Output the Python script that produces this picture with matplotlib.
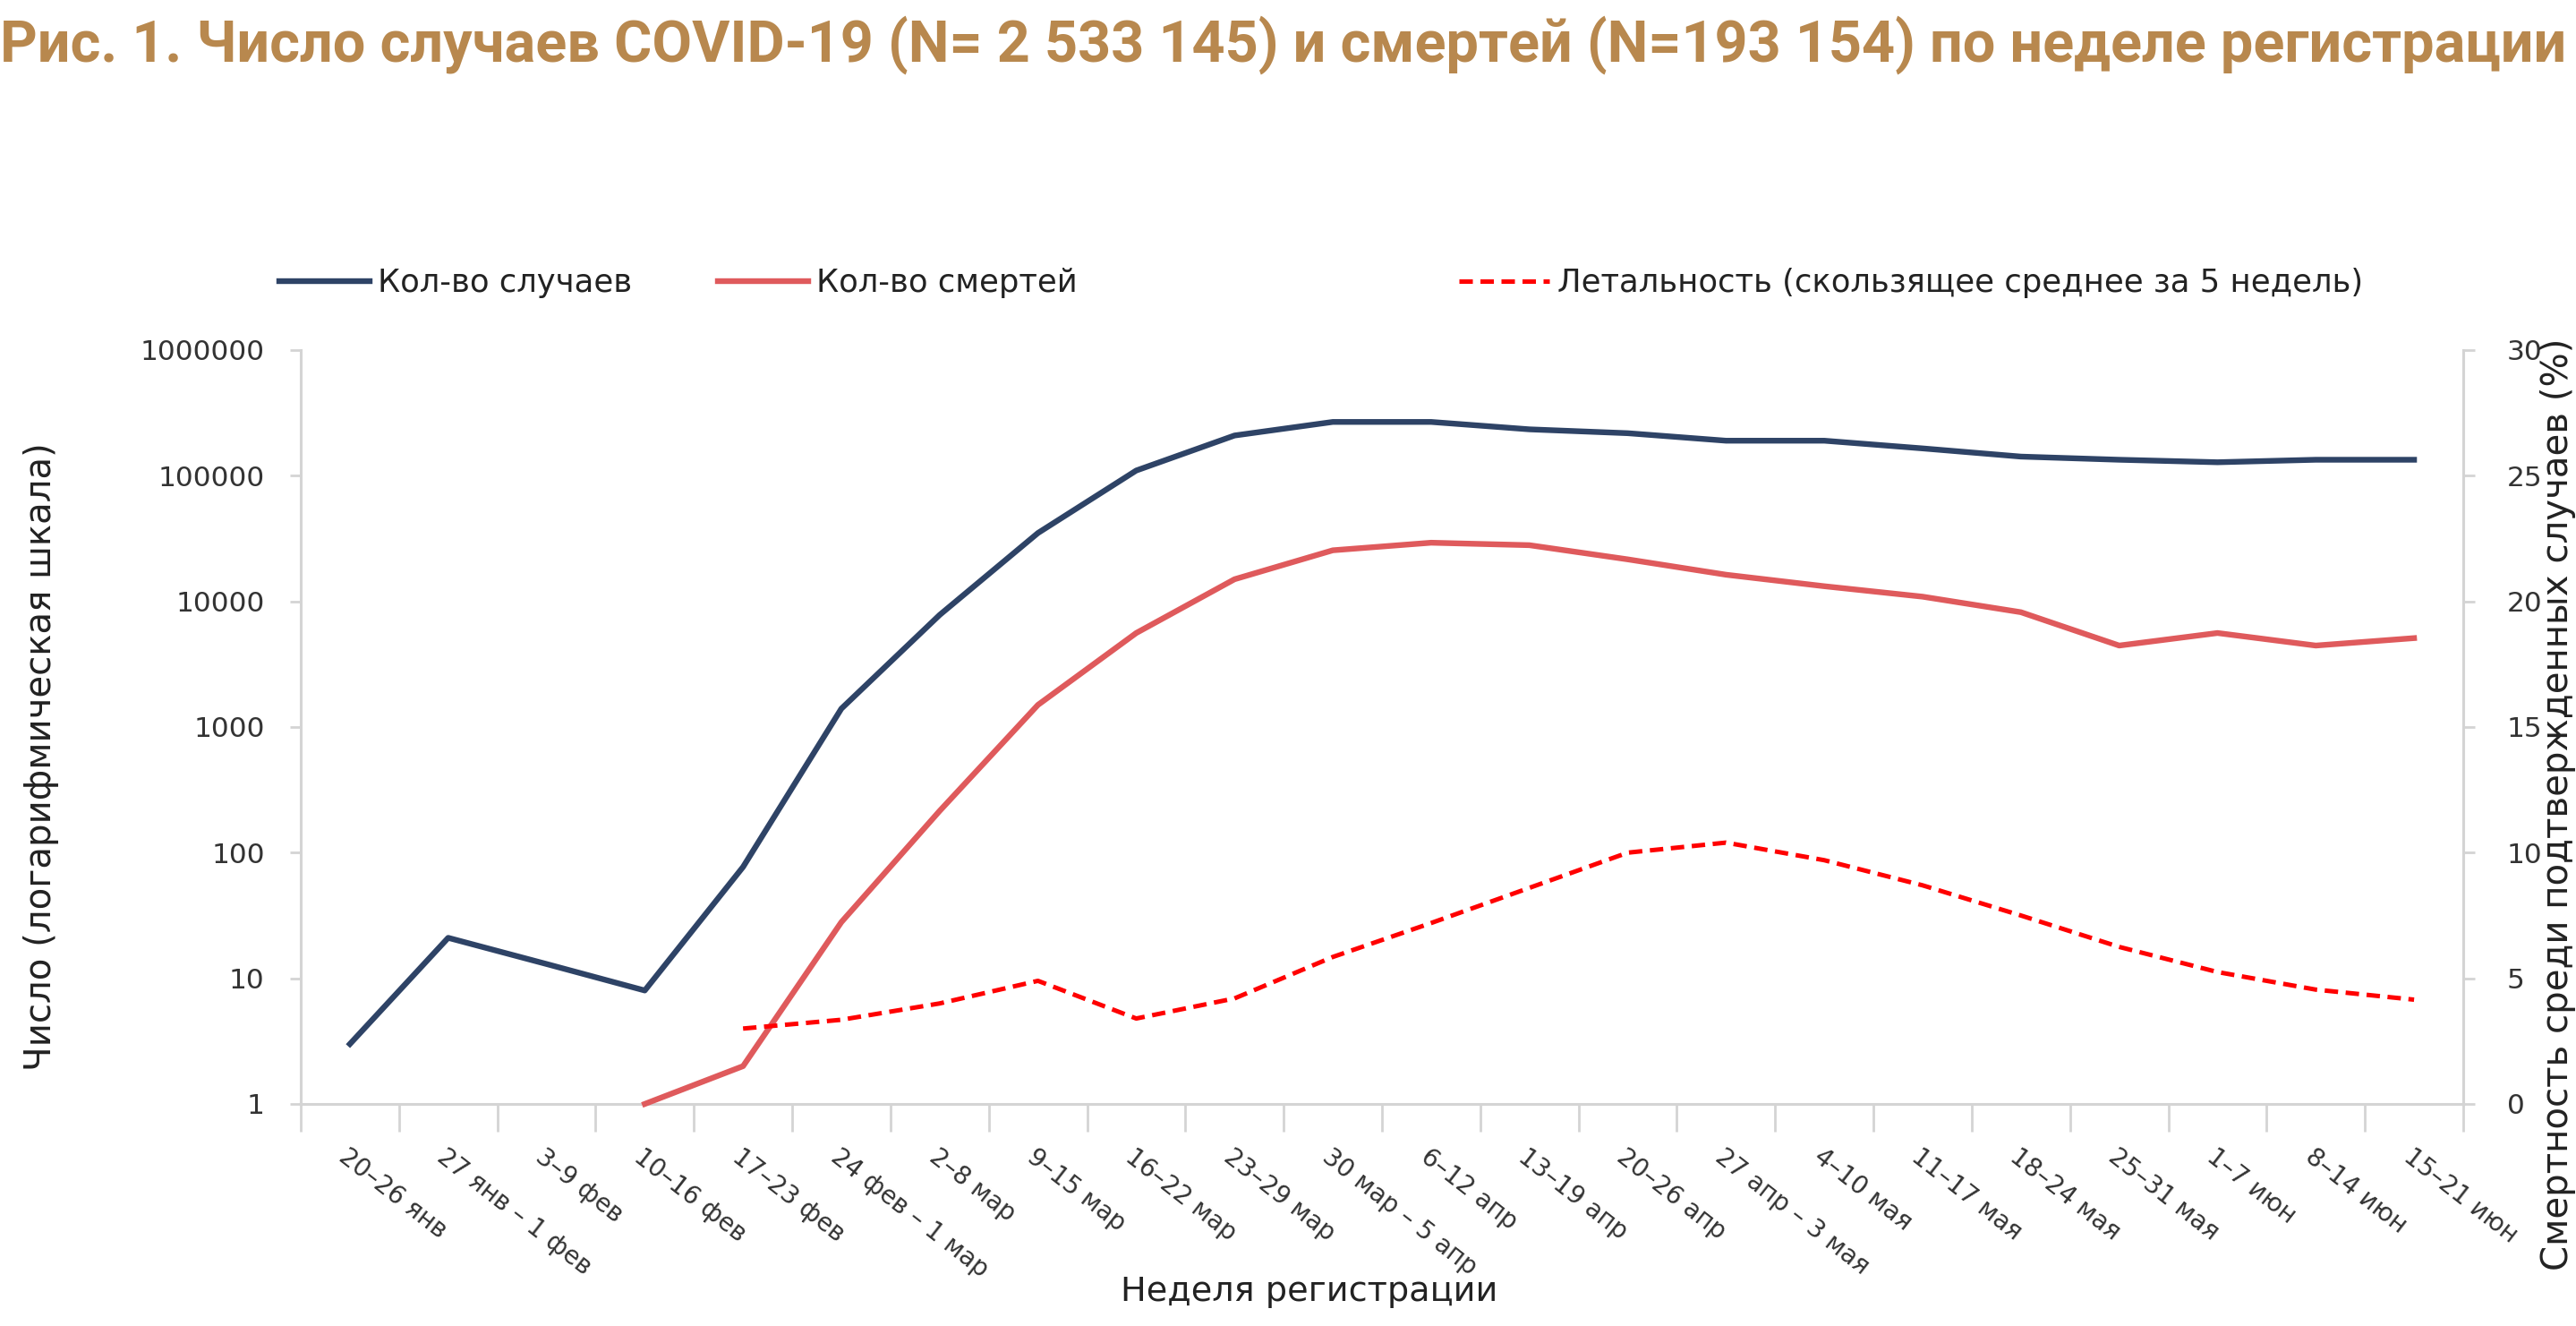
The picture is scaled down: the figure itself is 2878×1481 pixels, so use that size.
import numpy as np
import matplotlib.pyplot as plt
from matplotlib.ticker import FixedLocator, NullFormatter, FixedFormatter

weeks = ['20–26 янв', '27 янв – 1 фев', '3–9 фев', '10–16 фев', '17–23 фев',
         '24 фев – 1 мар', '2–8 мар', '9–15 мар', '16–22 мар', '23–29 мар',
         '30 мар – 5 апр', '6–12 апр', '13–19 апр', '20–26 апр', '27 апр – 3 мая',
         '4–10 мая', '11–17 мая', '18–24 мая', '25–31 мая', '1–7 июн',
         '8–14 июн', '15–21 июн']

cases = [3, 21, 13, 8, 77, 1400, 7800, 35000, 110000, 209000, 268000,
         268000, 234000, 218000, 190000, 190000, 165000, 142000, 134000,
         128000, 134000, 134000]

deaths = [np.nan, np.nan, np.nan, 1, 2, 28, 215, 1500, 5600, 15000, 25500,
          29300, 28000, 21600, 16300, 13200, 10900, 8200, 4450, 5600, 4450, 5100]

letality = [np.nan, np.nan, np.nan, np.nan, 3.0, 3.35, 4.0, 4.9, 3.4, 4.2, 5.85,
            7.2, 8.6, 10.0, 10.4, 9.7, 8.7, 7.5, 6.25, 5.25, 4.55, 4.15]

log_ticks = [1, 10, 100, 1000, 10000, 100000, 1000000]
pct_ticks = [0, 5, 10, 15, 20, 25, 30]

font = ['DejaVu Sans']
grey = '#D4D4D4'
txt = '#333333'

W, H = 2878, 1481
fig = plt.figure(figsize=(W / 100, H / 100), dpi=100)
ax = fig.add_axes([336 / W, 1 - 1233 / H, (2752 - 336) / W, (1233 - 391) / H])
ax2 = ax.twinx()

x = np.arange(len(weeks))
l1, = ax.plot(x, cases, color='#2E4366', lw=4.6, label='Кол-во случаев',
              solid_joinstyle='round', clip_on=False, zorder=3)
l2, = ax.plot(x, deaths, color='#DF5A5C', lw=4.6, label='Кол-во смертей',
              solid_joinstyle='round', clip_on=False, zorder=3)
l3, = ax2.plot(x, letality, color='#FF0000', lw=3.6, linestyle=(0, (3.0, 1.7)),
               label='Летальность (скользящее среднее за 5 недель)')

ax.set_yscale('log')
ax.set_ylim(1, 1000000)
ax.set_xlim(-0.5, len(weeks) - 0.5)
ax.yaxis.set_major_locator(FixedLocator(log_ticks))
ax.yaxis.set_major_formatter(FixedFormatter([str(v) for v in log_ticks]))
ax.yaxis.set_minor_locator(FixedLocator([]))
ax2.set_ylim(0, 30)
ax2.yaxis.set_major_locator(FixedLocator(pct_ticks))

ax.xaxis.set_major_locator(FixedLocator(np.arange(-0.5, len(weeks), 1.0)))
ax.xaxis.set_major_formatter(NullFormatter())
ax.xaxis.set_minor_locator(FixedLocator(x))
ax.xaxis.set_minor_formatter(FixedFormatter(weeks))

for a in (ax, ax2):
    for s in a.spines.values():
        s.set_color(grey)
        s.set_linewidth(2.2)
    a.spines['top'].set_visible(False)
ax.spines['right'].set_visible(False)
ax2.spines['left'].set_visible(False)
ax2.spines['bottom'].set_visible(False)

ax.tick_params(axis='y', which='major', length=9, width=2, color=grey, pad=20,
               labelsize=22.5, labelcolor=txt)
ax2.tick_params(axis='y', length=9, width=2, color=grey, pad=26,
                labelsize=22.5, labelcolor=txt)

ax.tick_params(axis='x', which='major', length=22, width=2, color=grey)
ax.tick_params(axis='x', which='minor', length=0, pad=32, labelsize=20,
               labelcolor=txt)
for lab in ax.get_xticklabels(minor=True):
    lab.set_rotation(-38)
    lab.set_rotation_mode('anchor')
    lab.set_ha('left')
    lab.set_va('top')

fig.text(0.0, 1 - 50 / H, 'Рис. 1. Число случаев COVID-19 (N= 2 533 145) и смертей (N=193 154) по неделе регистрации',
         ha='left', va='center', fontsize=46.6, fontweight='bold', color='#B8884E',
         family=['Roboto', 'DejaVu Sans'])

fig.text(1463 / W, 1 - 1443 / H, 'Неделя регистрации', ha='center', va='center',
         fontsize=27.5, color='#222222', family=font)
fig.text(46 / W, 1 - 845 / H, 'Число (логарифмическая шкала)', ha='center',
         va='center', rotation=90, fontsize=29, color='#222222', family=font)
fig.text(2838 / W, 1 - 378 / H, 'Смертность среди подтвержденных случаев (%)',
         ha='left', va='top', rotation=90, fontsize=29, color='#222222',
         family=font)

# three separate legend entries, spaced as in the original
for handle, left in ((l1, 312), (l2, 802), (l3, 1630)):
    leg = fig.legend(handles=[handle], loc='center left',
                     bbox_to_anchor=(left / W, 1 - 316 / H), frameon=False,
                     prop={'family': font, 'size': 25.5}, handlelength=2.85,
                     handletextpad=0.25, borderpad=0, borderaxespad=0)
    for t in leg.get_texts():
        t.set_color('#222222')

fig.savefig('out.png', dpi=100)
